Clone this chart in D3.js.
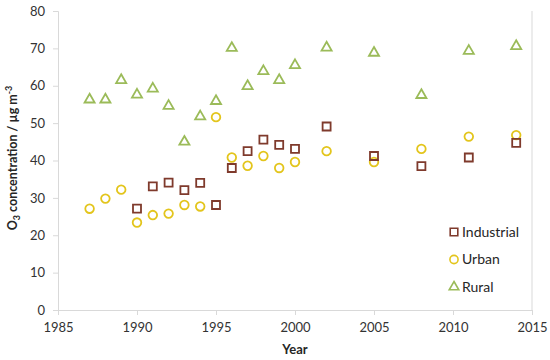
<!DOCTYPE html>
<html><head><meta charset="utf-8">
<script src="https://cdn.jsdelivr.net/npm/d3@7/dist/d3.min.js"></script>
<style>body{margin:0;background:#fff;} text{font-family:Lato, "Open Sans", sans-serif;}</style>
</head><body><svg id="c" width="550" height="360"></svg>
<script>
const industrialYears = [1990,1991,1992,1993,1994,1995,1996,1997,1998,1999,2000,2002,2005,2008,2011,2014];
const industrialValues = [27.1,33.1,34.1,32.1,34.0,28.1,38.0,42.5,45.6,44.2,43.1,49.1,41.2,38.5,40.8,44.7];
const urbanYears = [1987,1988,1989,1990,1991,1992,1993,1994,1995,1996,1997,1998,1999,2000,2002,2005,2008,2011,2014];
const urbanValues = [27.1,29.8,32.2,23.4,25.4,25.8,28.1,27.7,51.6,40.8,38.6,41.2,38.0,39.6,42.5,39.6,43.1,46.4,46.8];
const ruralYears = [1987,1988,1989,1990,1991,1992,1993,1994,1995,1996,1997,1998,1999,2000,2002,2005,2008,2011,2014];
const ruralValues = [56.3,56.3,61.5,57.6,59.2,54.6,45.0,51.8,55.9,70.1,59.9,63.9,61.5,65.5,70.2,68.8,57.5,69.3,70.6];
const xTicks = [1985,1990,1995,2000,2005,2010,2015];
const yTicks = [0,10,20,30,40,50,60,70,80];
const seriesNames = ["Industrial","Urban","Rural"];

const svg = d3.select("#c");
const L = 58, R = 532, T = 11, B = 310;
const x = d3.scaleLinear().domain([1985,2015]).range([L,R]);
const y = d3.scaleLinear().domain([0,80]).range([B,T]);
const axisCol = "#d9d9d9", txtCol = "#333333";

// right border
svg.append("line").attr("x1",R).attr("x2",R).attr("y1",T).attr("y2",B).attr("stroke",axisCol).attr("stroke-width",1);

const xa = svg.append("g").attr("transform",`translate(0,${B})`)
  .call(d3.axisBottom(x).tickValues(xTicks).tickFormat(d3.format("d")).tickSize(5).tickPadding(8));
const ya = svg.append("g").attr("transform",`translate(${L},0)`)
  .call(d3.axisLeft(y).tickValues(yTicks).tickSize(5).tickPadding(8));
[xa,ya].forEach(a=>{
  a.select(".domain").attr("stroke",axisCol);
  a.selectAll(".tick line").attr("stroke",axisCol);
  a.selectAll("text").attr("fill",txtCol).style("font-size","13px").style("font-family","Lato, sans-serif");
});

const colors = {Industrial:"#7f3a2c", Urban:"#e3c51c", Rural:"#9bbb59"};
const sym = {Industrial:d3.symbolSquare, Urban:d3.symbolCircle, Rural:d3.symbolTriangle};
const sizes = {Industrial:64, Urban:58, Rural:44};

function plot(name, xs, vs){
  const data = xs.map((d,i)=>({x:d,v:vs[i]}));
  svg.append("g").selectAll("path").data(data).join("path")
    .attr("d", d3.symbol().type(sym[name]).size(sizes[name]))
    .attr("transform", d=>`translate(${x(d.x)},${y(d.v)})`)
    .attr("fill","none").attr("stroke",colors[name]).attr("stroke-width",1.8);
}
plot("Rural", ruralYears, ruralValues);
plot("Urban", urbanYears, urbanValues);
plot("Industrial", industrialYears, industrialValues);

// legend
const lg = svg.append("g");
seriesNames.forEach((n,i)=>{
  const cy = 232 + i*27.5;
  lg.append("path").attr("d", d3.symbol().type(sym[n]).size(sizes[n]*0.9)())
    .attr("transform",`translate(454,${cy})`).attr("fill","none").attr("stroke",colors[n]).attr("stroke-width",1.6);
  lg.append("text").attr("x",462).attr("y",cy).attr("dy","0.35em").text(n)
    .attr("fill","#262626").style("font-size","14px");
});

// axis titles
svg.append("text").attr("x",295).attr("y",354).attr("text-anchor","middle")
  .style("font-weight","bold").style("font-size","13px").attr("fill","#262626").text("Year");
const yt = svg.append("text").attr("transform","translate(17,158) rotate(-90)").attr("text-anchor","middle")
  .style("font-weight","bold").style("font-size","12.5px").attr("fill","#262626");
yt.append("tspan").text("O");
yt.append("tspan").text("3").attr("dy","3").style("font-size","9px");
yt.append("tspan").text(" concentration / µg m").attr("dy","-3");
yt.append("tspan").text("-3").attr("dy","-5").style("font-size","9px");
</script></body></html>
